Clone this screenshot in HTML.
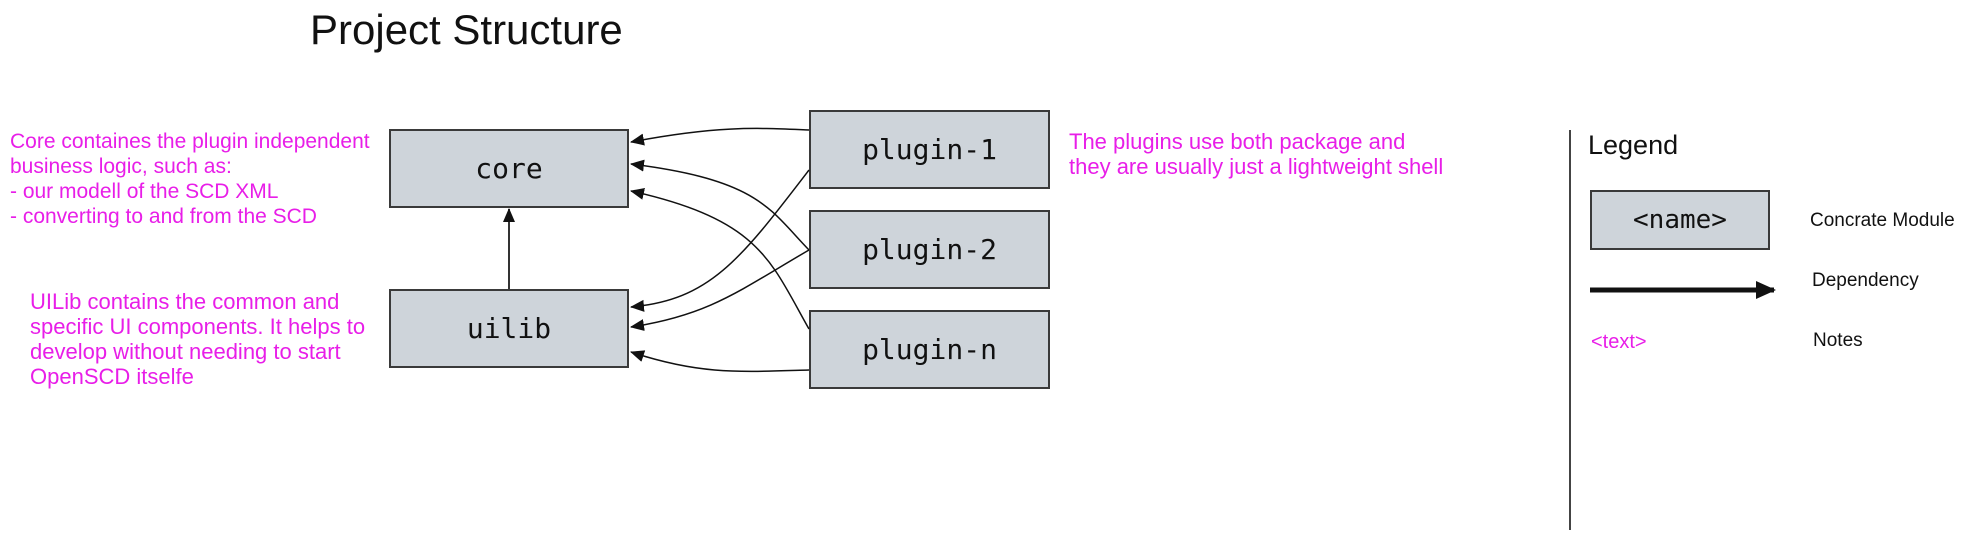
<!DOCTYPE html>
<html><head><meta charset="utf-8"><style>
body{margin:0;background:#fff;width:1982px;height:540px;overflow:hidden;position:relative;font-family:"Liberation Sans",sans-serif}
.box{position:absolute;background:#ced4da;border:2px solid #3a3a3a;box-sizing:border-box;display:flex;align-items:center;justify-content:center;font-family:"DejaVu Sans Mono",monospace;font-size:28px;color:#111}
.t{position:absolute;white-space:nowrap;font-family:"Liberation Sans",sans-serif}
.m{color:#e81ee8;font-size:21px;line-height:25px}
</style></head><body>
<div class="t" style="left:310px;top:6px;font-size:42px;color:#111">Project Structure</div>
<div class="box" style="left:389px;top:129px;width:240px;height:79px">core</div>
<div class="box" style="left:389px;top:289px;width:240px;height:79px">uilib</div>
<div class="box" style="left:809px;top:110px;width:241px;height:79px">plugin-1</div>
<div class="box" style="left:809px;top:210px;width:241px;height:79px">plugin-2</div>
<div class="box" style="left:809px;top:310px;width:241px;height:79px">plugin-n</div>
<svg width="1982" height="540" style="position:absolute;left:0;top:0">
<defs><marker id="a" markerWidth="14" markerHeight="14" refX="13" refY="6" orient="auto" markerUnits="userSpaceOnUse"><path d="M0,0 L14,6 L0,12 z" fill="#111"/></marker>
<marker id="b" markerWidth="20" markerHeight="18" refX="18" refY="9" orient="auto" markerUnits="userSpaceOnUse"><path d="M0,0 L20,9 L0,18 z" fill="#111"/></marker></defs>
<g fill="none" stroke="#111" stroke-width="1.5">
<path d="M509,289 L509,209" marker-end="url(#a)" stroke="#333" stroke-width="2"/>
<path d="M809,130 C760,128 720,125 631,142" marker-end="url(#a)"/>
<path d="M809,250 C770,210 760,180 631,164" marker-end="url(#a)"/>
<path d="M809,329 C770,260 760,220 631,191" marker-end="url(#a)"/>
<path d="M809,170 C740,260 710,300 631,307" marker-end="url(#a)"/>
<path d="M809,250 C740,290 710,315 631,327" marker-end="url(#a)"/>
<path d="M809,370 C740,372 700,375 631,352" marker-end="url(#a)"/>
<line x1="1570" y1="130" x2="1570" y2="530" stroke="#444" stroke-width="2"/>
<path d="M1590,290 L1774,290" stroke-width="5" marker-end="url(#b)"/>
</g></svg>
<div class="t m" style="left:10px;top:129px">Core containes the plugin independent<br>business logic, such as:<br>- our modell of the SCD XML<br>- converting to and from the SCD</div>
<div class="t m" style="left:30px;top:289px;font-size:22px">UILib contains the common and<br>specific UI components. It helps to<br>develop without needing to start<br>OpenSCD itselfe</div>
<div class="t m" style="left:1069px;top:129px;font-size:22px">The plugins use both package and<br>they are usually just a lightweight shell</div>
<div class="t" style="left:1588px;top:130px;font-size:27px;color:#111">Legend</div>
<div class="box" style="left:1590px;top:190px;width:180px;height:60px;font-size:26px">&lt;name&gt;</div>
<div class="t" style="left:1810px;top:210px;font-size:19px;color:#111">Concrate Module</div>
<div class="t" style="left:1812px;top:270px;font-size:19px;color:#111">Dependency</div>
<div class="t m" style="left:1591px;top:330px;font-size:20px">&lt;text&gt;</div>
<div class="t" style="left:1813px;top:330px;font-size:19px;color:#111">Notes</div>
</body></html>
